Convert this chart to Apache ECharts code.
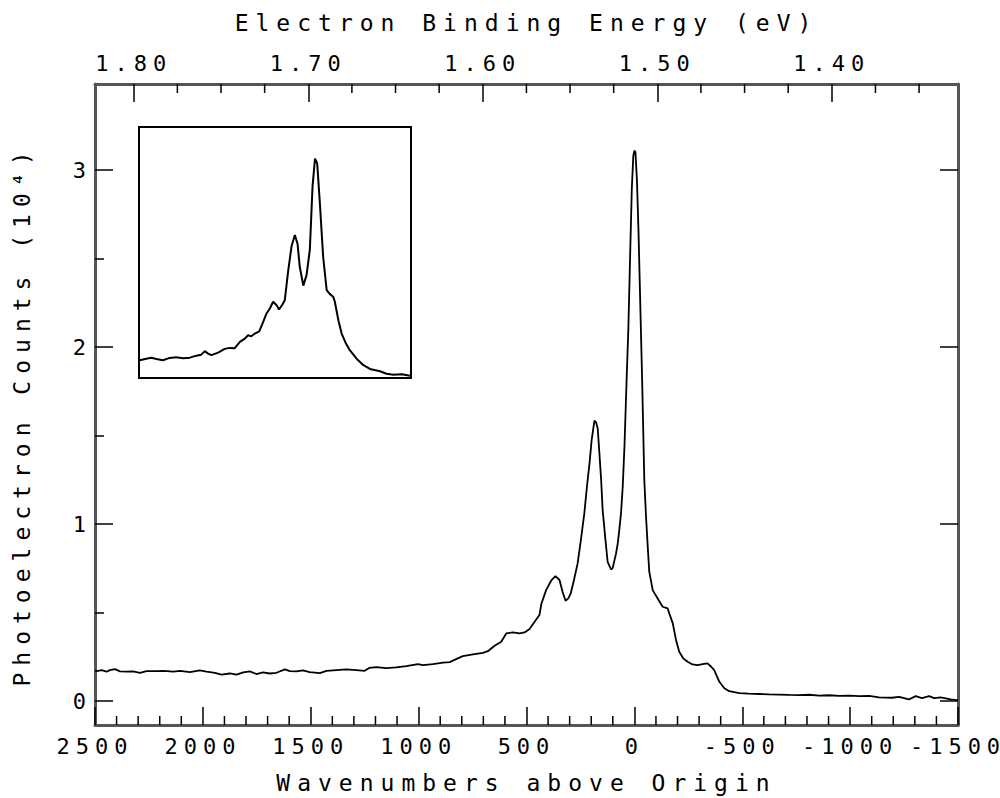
<!DOCTYPE html>
<html>
<head>
<meta charset="utf-8">
<script src="https://cdn.jsdelivr.net/npm/echarts@6/dist/echarts.min.js"></script>
<style>
html, body { margin: 0; padding: 0; background: #fff; }
#chart { width: 1000px; height: 798px; }
#chart text { letter-spacing: 6px; }
#chart text[style*="23px"] { letter-spacing: 7px; }
</style>
</head>
<body>
<div id="chart"></div>
<script>
// Main spectrum: wavenumbers above origin (cm^-1) and photoelectron counts (10^4)
const mainWavenumber = [2500,2492,2469,2446,2431,2407,2384,2353,2323,2292,2261,2215,2184,2137,2106,2060,2014,1983,1944,1914,1875,1844,1813,1782,1752,1721,1690,1659,1620,1597,1566,1536,1505,1458,1427,1381,1335,1289,1250,1227,1196,1150,1104,1057,1003,980,934,887,856,826,795,748,702,679,648,617,594,563,532,509,486,455,440,431,409,384,366,347,333,319,306,295,280,263,248,232,220,208,198,185,177,170,162,154,147,134,124,108,101,85,77,70,62,54,46,36,28,19,12,5,0,-5,-12,-19,-28,-36,-46,-54,-62,-69,-85,-108,-131,-154,-162,-178,-193,-208,-227,-247,-269,-293,-316,-339,-356,-370,-394,-417,-440,-486,-530,-579,-625,-671,-717,-764,-810,-856,-903,-949,-995,-1042,-1088,-1134,-1194,-1227,-1273,-1304,-1333,-1366,-1389,-1420,-1466,-1495,-1500];
const mainCounts = [0.172,0.169,0.175,0.166,0.175,0.181,0.168,0.166,0.168,0.160,0.169,0.169,0.171,0.166,0.171,0.164,0.173,0.166,0.160,0.149,0.156,0.149,0.162,0.168,0.153,0.162,0.156,0.160,0.179,0.169,0.168,0.173,0.164,0.158,0.171,0.175,0.179,0.175,0.171,0.188,0.192,0.186,0.190,0.198,0.209,0.203,0.209,0.217,0.220,0.237,0.254,0.264,0.273,0.282,0.313,0.335,0.382,0.388,0.382,0.388,0.407,0.461,0.486,0.55,0.627,0.684,0.706,0.684,0.618,0.567,0.580,0.608,0.684,0.778,0.910,1.060,1.211,1.343,1.475,1.584,1.573,1.541,1.399,1.249,1.079,0.910,0.787,0.744,0.750,0.834,0.891,0.966,1.060,1.211,1.437,1.814,2.10,2.55,2.89,3.08,3.11,3.10,2.94,2.66,2.21,1.814,1.249,1.041,0.872,0.731,0.627,0.580,0.533,0.524,0.495,0.439,0.345,0.279,0.241,0.222,0.207,0.203,0.209,0.213,0.194,0.175,0.109,0.073,0.056,0.045,0.042,0.040,0.038,0.037,0.035,0.034,0.036,0.031,0.033,0.030,0.031,0.028,0.030,0.021,0.019,0.024,0.010,0.028,0.017,0.028,0.017,0.021,0.010,0.006,0.008];

// Inset spectrum (relative channel, relative counts)
const insetChannel = [0.25,2.7,4.5,6.4,8.8,11.3,13.7,16.2,18.7,21.1,22.9,24.2,25.4,26.6,29.1,31.5,33.4,35.2,37.1,38.9,40.1,41.3,42.6,44.2,45.4,46.9,48.1,49.3,50.6,51.5,52.8,53.6,54.8,56.1,57.3,58.3,59.1,60.4,61.6,62.8,63.8,64.7,65.5,66.5,67.7,69.0,70.2,71.4,72.0,73.3,74.5,76.1,77.5,80.0,82.5,84.9,88.6,91.0,93.5,96.6,99.6];
const insetCounts = [7.1,7.7,8.1,7.6,7.1,8.0,8.3,7.9,8.1,8.9,9.3,10.7,9.7,9.1,10.1,11.6,12.0,11.9,14.4,15.7,17.0,16.6,17.7,18.6,21.7,25.7,27.7,30.4,29.0,27.3,29.4,31.0,42.3,52.6,57.0,53.4,44.3,36.8,41.0,51.0,76.3,87.4,85.6,69.6,48.3,35.0,33.4,32.4,30.4,23.0,17.7,13.7,11.1,7.7,5.1,3.6,2.7,1.7,1.3,1.5,0.9];

// Axis tick values
const countTicks = [0, 1, 2, 3];
const countHalfTicks = [0.5, 1.5, 2.5];
const energyTicks = [1.40, 1.50, 1.60, 1.70, 1.80];
const energyMinorTicks = [1.350, 1.375, 1.425, 1.450, 1.475, 1.525, 1.550, 1.575, 1.625, 1.650, 1.675, 1.725, 1.750, 1.775];
const wavenumberTicks = [2500, 2000, 1500, 1000, 500, 0, -500, -1000, -1500];
const wavenumberMinorTicks = [2400,2300,2200,2100,1900,1800,1700,1600,1400,1300,1200,1100,900,800,700,600,400,300,200,100,-100,-200,-300,-400,-600,-700,-800,-900,-1100,-1200,-1300,-1400];

// Axis ranges
const wnMin = -1500, wnMax = 2500;
const eMin = 1.3277, eMax = 1.8222;
const cMin = -0.135, cMax = 3.486;

const FONT = '"DejaVu Sans Mono", monospace';
const frameLine = { show: true, onZero: false, lineStyle: { color: '#555', width: 3 } };
const noLine = { show: false, onZero: false };
const tickStyle = { color: '#000', width: 1.5 };

// minor ticks on the horizontal axes, placed through the axis scales at the frame edge
function tickSeries(xAxisIndex, values, len, atTop) {
  const edge = atTop ? cMax : cMin;
  return {
    type: 'custom', xAxisIndex: xAxisIndex, yAxisIndex: 0, silent: true, clip: false, z: 5,
    data: values.map(v => [v, edge]),
    encode: { x: 0, y: 1 },
    renderItem: function (params, api) {
      const p = api.coord([api.value(0), api.value(1)]);
      const dir = atTop ? 1 : -1;
      return { type: 'line', shape: { x1: p[0], y1: p[1], x2: p[0], y2: p[1] + dir * len },
        style: { stroke: '#000', lineWidth: 1.5, fill: null } };
    }
  };
}

const chart = echarts.init(document.getElementById('chart'), null, { renderer: 'svg' });
chart.setOption({
  animation: false,
  backgroundColor: '#fff',
  grid: [
    { left: 95, right: 42, top: 84, bottom: 73, outerBoundsMode: 'none', containLabel: false },
    { left: 139, right: 589, top: 127, bottom: 420, show: true, borderColor: '#000', borderWidth: 2, backgroundColor: 'transparent', outerBoundsMode: 'none', containLabel: false }
  ],
  xAxis: [
    {
      gridIndex: 0, type: 'value', position: 'bottom', inverse: true,
      min: wnMin, max: wnMax, interval: 500,
      axisLine: frameLine,
      axisTick: { show: true, inside: true, length: 18, customValues: wavenumberTicks, lineStyle: tickStyle },
      splitLine: { show: false },
      axisLabel: { show: true, margin: 10, color: '#000', fontSize: 22, fontFamily: FONT, customValues: wavenumberTicks, formatter: v => String(v) },
      name: 'Wavenumbers above Origin', nameLocation: 'middle', nameGap: 46,
      nameTextStyle: { color: '#000', fontSize: 23, fontFamily: FONT }
    },
    {
      gridIndex: 0, type: 'value', position: 'top', inverse: true,
      min: eMin, max: eMax,
      axisLine: frameLine,
      axisTick: { show: true, inside: true, length: 18, customValues: energyTicks, lineStyle: tickStyle },
      splitLine: { show: false },
      axisLabel: { show: true, margin: 10, color: '#000', fontSize: 22, fontFamily: FONT, customValues: energyTicks,
        formatter: v => v.toFixed(2) },
      name: 'Electron Binding Energy (eV)', nameLocation: 'middle', nameGap: 50,
      nameTextStyle: { color: '#000', fontSize: 23, fontFamily: FONT }
    },
    { gridIndex: 1, type: 'value', min: 0, max: 100, show: false, axisLine: noLine }
  ],
  yAxis: [
    {
      gridIndex: 0, type: 'value', position: 'left',
      min: cMin, max: cMax,
      axisLine: frameLine,
      axisTick: { show: true, inside: true, length: 18, customValues: countTicks, lineStyle: tickStyle },
      splitLine: { show: false },
      axisLabel: { show: true, margin: 3, color: '#000', fontSize: 22, fontFamily: FONT, customValues: countTicks },
      name: 'Photoelectron Counts (10⁴)', nameLocation: 'middle', nameGap: 62, nameRotate: 90,
      nameTextStyle: { color: '#000', fontSize: 23, fontFamily: FONT, padding: [0, 0, 0, -22] }
    },
    {
      gridIndex: 0, type: 'value', position: 'left',
      min: cMin, max: cMax,
      axisLine: noLine,
      axisTick: { show: true, inside: true, length: 9, customValues: countHalfTicks, lineStyle: tickStyle },
      splitLine: { show: false },
      axisLabel: { show: false }
    },
    {
      gridIndex: 0, type: 'value', position: 'right',
      min: cMin, max: cMax,
      axisLine: frameLine,
      axisTick: { show: true, inside: true, length: 18, customValues: countTicks, lineStyle: tickStyle },
      splitLine: { show: false },
      axisLabel: { show: false }
    },
    { gridIndex: 1, type: 'value', min: 0, max: 100, show: false, axisLine: noLine }
  ],
  series: [
    {
      type: 'line', xAxisIndex: 0, yAxisIndex: 0,
      data: mainWavenumber.map((w, i) => [w, mainCounts[i]]),
      showSymbol: false, symbol: 'none',
      lineStyle: { color: '#000', width: 1.8 },
      silent: true
    },
    {
      type: 'line', xAxisIndex: 2, yAxisIndex: 3,
      data: insetChannel.map((c, i) => [c, insetCounts[i]]),
      showSymbol: false, symbol: 'none',
      lineStyle: { color: '#000', width: 2 },
      silent: true
    },
    tickSeries(0, wavenumberMinorTicks, 9, false),
    tickSeries(1, energyMinorTicks, 9, true)
  ]
});
</script>
</body>
</html>
